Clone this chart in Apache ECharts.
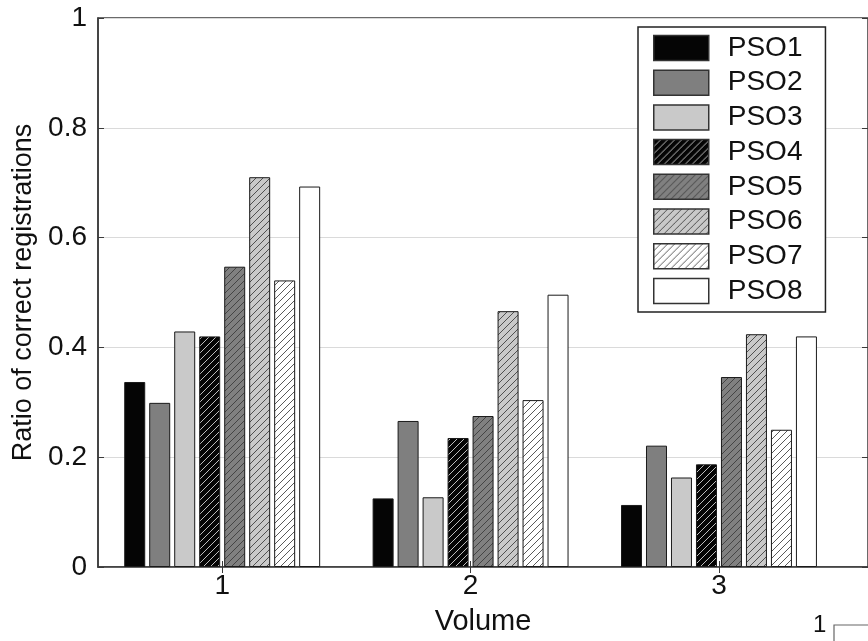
<!DOCTYPE html>
<html>
<head>
<meta charset="utf-8">
<script src="https://cdn.jsdelivr.net/npm/echarts@6/dist/echarts.min.js"></script>
<style>html,body{margin:0;padding:0;background:#fff;}#c{width:868px;height:641px;}</style>
</head>
<body>
<div id="c"></div>
<script>
// ---- data ----
const volumes = [1, 2, 3];
const seriesNames = ['PSO1', 'PSO2', 'PSO3', 'PSO4', 'PSO5', 'PSO6', 'PSO7', 'PSO8'];
const pso1 = [0.337, 0.125, 0.113];
const pso2 = [0.299, 0.266, 0.221];
const pso3 = [0.429, 0.127, 0.163];
const pso4 = [0.420, 0.235, 0.187];
const pso5 = [0.547, 0.275, 0.346];
const pso6 = [0.710, 0.466, 0.424];
const pso7 = [0.522, 0.304, 0.250];
const pso8 = [0.693, 0.496, 0.420];
const yTicks = [0, 0.2, 0.4, 0.6, 0.8, 1];
const xTicks = [1, 2, 3];

// ---- styles ----
function hatch(bg, line) {
  const s = 7;
  const c = document.createElement('canvas');
  c.width = s; c.height = s;
  const g = c.getContext('2d');
  g.fillStyle = bg; g.fillRect(0, 0, s, s);
  g.strokeStyle = line; g.lineWidth = 1.0;
  g.beginPath();
  for (const o of [-s, 0, s]) { g.moveTo(-1 + o, s + 1); g.lineTo(s + 1 + o, -1); }
  g.stroke();
  return { image: c, repeat: 'repeat' };
}
const fills = [
  '#050505', '#7f7f7f', '#c9c9c9',
  hatch('#050505', '#bdbdbd'),
  hatch('#808080', '#444444'),
  hatch('#c9c9c9', '#505050'),
  hatch('#ffffff', '#5a5a5a'),
  '#ffffff'
];
const allValues = [pso1, pso2, pso3, pso4, pso5, pso6, pso7, pso8];
const FONT = '"Liberation Sans", Arial, Helvetica, sans-serif';

const series = seriesNames.map((name, i) => ({
  name: name,
  type: 'bar',
  data: volumes.map((v, j) => [v, allValues[i][j]]),
  barWidth: 21,
  barGap: '19%',
  itemStyle: { color: fills[i], borderColor: '#1a1a1a', borderWidth: 1 },
  emphasis: { disabled: true },
  animation: false
}));

const chart = echarts.init(document.getElementById('c'), null, { renderer: 'canvas' });
chart.setOption({
  animation: false,
  backgroundColor: '#ffffff',
  textStyle: { fontFamily: FONT },
  grid: { left: 98, top: 18, bottom: 72, right: -2.5, show: true, borderColor: '#3a3a3a', borderWidth: 1.5, backgroundColor: 'transparent' },
  xAxis: [{
    type: 'value', min: 0.5, max: 3.6, position: 'bottom',
    name: 'Volume', nameLocation: 'middle', nameGap: 40,
    nameTextStyle: { fontSize: 29, color: '#111', fontFamily: FONT },
    axisLine: { show: true, lineStyle: { color: '#3a3a3a', width: 1.5 } },
    axisTick: { show: true, inside: true, length: 6, customValues: xTicks, lineStyle: { color: '#3a3a3a' } },
    axisLabel: { customValues: xTicks, fontSize: 28, color: '#111', margin: 5, fontFamily: FONT },
    splitLine: { show: false }
  }, {
    type: 'value', min: 0.5, max: 3.6, position: 'top',
    axisLine: { show: false },
    axisTick: { show: true, inside: true, length: 6, customValues: xTicks, lineStyle: { color: '#3a3a3a' } },
    axisLabel: { show: false },
    splitLine: { show: false }
  }],
  yAxis: [{
    type: 'value', min: 0, max: 1, interval: 0.2, position: 'left',
    name: 'Ratio of correct registrations', nameLocation: 'middle', nameGap: 52,
    nameTextStyle: { fontSize: 27, color: '#111', fontFamily: FONT },
    axisLine: { show: true, lineStyle: { color: '#3a3a3a', width: 1.5 } },
    axisTick: { show: true, inside: true, length: 6, lineStyle: { color: '#3a3a3a' } },
    axisLabel: { fontSize: 28, color: '#111', margin: 11, fontFamily: FONT,
      formatter: v => yTicks.includes(+v.toFixed(1)) ? String(+v.toFixed(1)) : '' },
    splitLine: { show: true, lineStyle: { color: '#dadada', width: 1 } }
  }, {
    type: 'value', min: 0, max: 1, interval: 0.2, position: 'right',
    axisLine: { show: false },
    axisTick: { show: true, inside: true, length: 6, lineStyle: { color: '#3a3a3a' } },
    axisLabel: { show: false },
    splitLine: { show: false }
  }],
  legend: {
    orient: 'vertical', left: 638, top: 27,
    padding: [7, 23, 7, 15],
    itemWidth: 55, itemHeight: 25, itemGap: 6.7,
    icon: 'rect',
    borderColor: '#222', borderWidth: 1.5, backgroundColor: '#ffffff',
    itemStyle: { borderColor: '#333', borderWidth: 1.5 },
    textStyle: { fontSize: 28, color: '#111', fontFamily: FONT, padding: [0, 0, 0, 14] },
    data: seriesNames
  },
  graphic: [
    { type: 'text', left: 813, top: 613, style: { text: '1', fontSize: 24, fill: '#111', fontFamily: FONT } },
    { type: 'polyline', shape: { points: [[834, 641], [834, 625], [868, 625]] }, style: { stroke: '#666', lineWidth: 1.2, fill: null } }
  ],
  series: series
});
</script>
</body>
</html>
